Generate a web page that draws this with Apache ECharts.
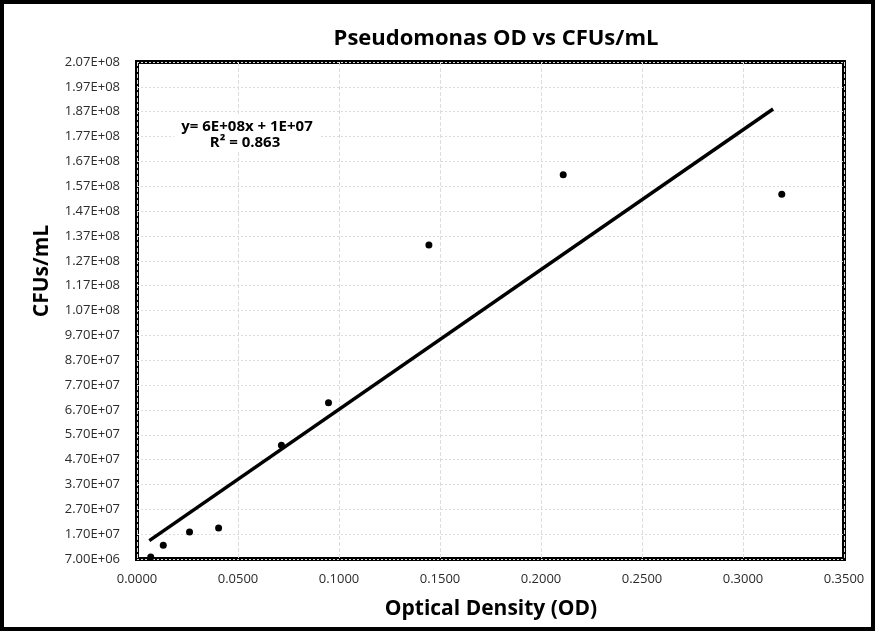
<!DOCTYPE html>
<html>
<head>
<meta charset="utf-8">
<script src="https://cdn.jsdelivr.net/npm/echarts@6/dist/echarts.min.js"></script>
<style>
html,body{margin:0;padding:0;background:#fff;}
#chart{width:875px;height:632px;}
</style>
</head>
<body>
<div id="chart"></div>
<script>
// Measured points: optical density (x) vs CFUs/mL (y)
var odValues = [0.0068, 0.0130, 0.0260, 0.0404, 0.0715, 0.0948, 0.1445, 0.2110, 0.3192];
var cfuValues = [7.8e6, 1.25e7, 1.79e7, 1.95e7, 5.28e7, 6.99e7, 1.334e8, 1.616e8, 1.538e8];
// Linear trendline endpoints
var trendX = [0.0061, 0.3149];
var trendY = [1.44e7, 1.881e8];
// Y-axis tick values
var yTicks = [7.0e6, 1.7e7, 2.7e7, 3.7e7, 4.7e7, 5.7e7, 6.7e7, 7.7e7, 8.7e7, 9.7e7,
  1.07e8, 1.17e8, 1.27e8, 1.37e8, 1.47e8, 1.57e8, 1.67e8, 1.77e8, 1.87e8, 1.97e8, 2.07e8];
var xTicks = [0, 0.05, 0.10, 0.15, 0.20, 0.25, 0.30, 0.35];
var titleText = 'Pseudomonas OD vs CFUs/mL';
var xName = 'Optical Density (OD)';
var yName = 'CFUs/mL';
var eqLine1 = 'y= 6E+08x + 1E+07';
var eqLine2 = 'R\u00B2 = 0.863';

function sci(v) {
  var s = v.toExponential(2).toUpperCase();
  return s.replace(/E([+-])(\d)$/, 'E$10$2');
}

var font = '"Open Sans", "Noto Sans", sans-serif';
var chart = echarts.init(document.getElementById('chart'));
chart.setOption({
  backgroundColor: '#fff',
  animation: false,
  title: {
    text: titleText,
    left: 491, top: 23, textAlign: 'center',
    textStyle: {fontFamily: font, fontSize: 22, fontWeight: 'bold', color: '#000'}
  },
  grid: {
    left: 137, right: 31, top: 62, bottom: 73,
    show: true, borderColor: '#000', borderWidth: 4, backgroundColor: 'transparent'
  },
  xAxis: {
    type: 'value', min: 0, max: 0.35, interval: 0.05,
    axisLine: {show: false}, axisTick: {show: false},
    axisLabel: {
      margin: 14, color: '#2b2b2b', fontFamily: font, fontSize: 13,
      customValues: xTicks,
      formatter: function (v) { return v.toFixed(4); }
    },
    splitLine: {show: true, lineStyle: {color: '#dcdcdc', type: [4, 2], width: 1}}
  },
  yAxis: {
    type: 'value', min: 7e6, max: 2.07e8,
    axisLine: {show: false},
    axisTick: {show: false, customValues: yTicks},
    axisLabel: {
      margin: 17, color: '#2b2b2b', fontFamily: font, fontSize: 13,
      customValues: yTicks,
      formatter: function (v) { return sci(v); }
    },
    splitLine: {show: true, lineStyle: {color: '#dcdcdc', type: [2, 2], width: 1}}
  },
  graphic: [
    {type: 'rect', shape: {x: 2, y: 2, width: 871, height: 627},
     style: {fill: 'none', stroke: '#000', lineWidth: 4}, silent: true},
    {type: 'text', x: 491, y: 609,
     style: {text: xName, font: 'bold 21px ' + font, fill: '#000', textAlign: 'center', textVerticalAlign: 'middle'}},
    {type: 'text', x: 42, y: 271, rotation: Math.PI / 2,
     style: {text: yName, font: 'bold 21px ' + font, fill: '#000', textAlign: 'center', textVerticalAlign: 'middle'}},
    {type: 'rect', shape: {x: 174, y: 116, width: 146, height: 36},
     style: {fill: '#fff', stroke: 'none'}, z: 10, silent: true},
    {type: 'text', x: 247, y: 127, z: 11,
     style: {text: eqLine1, font: 'bold 15px ' + font, fill: '#000', textAlign: 'center', textVerticalAlign: 'middle'}},
    {type: 'text', x: 245, y: 143, z: 11,
     style: {text: eqLine2, font: 'bold 15px ' + font, fill: '#000', textAlign: 'center', textVerticalAlign: 'middle'}}
  ],
  series: [
    {
      type: 'line', name: 'trend',
      data: trendX.map(function (x, i) { return [x, trendY[i]]; }),
      symbol: 'none', lineStyle: {color: '#000', width: 3.5}, z: 2
    },
    {
      type: 'scatter', name: 'data',
      data: odValues.map(function (x, i) { return [x, cfuValues[i]]; }),
      symbol: 'circle', symbolSize: 7, itemStyle: {color: '#000', opacity: 1}, z: 3
    }
  ]
});
</script>
</body>
</html>
